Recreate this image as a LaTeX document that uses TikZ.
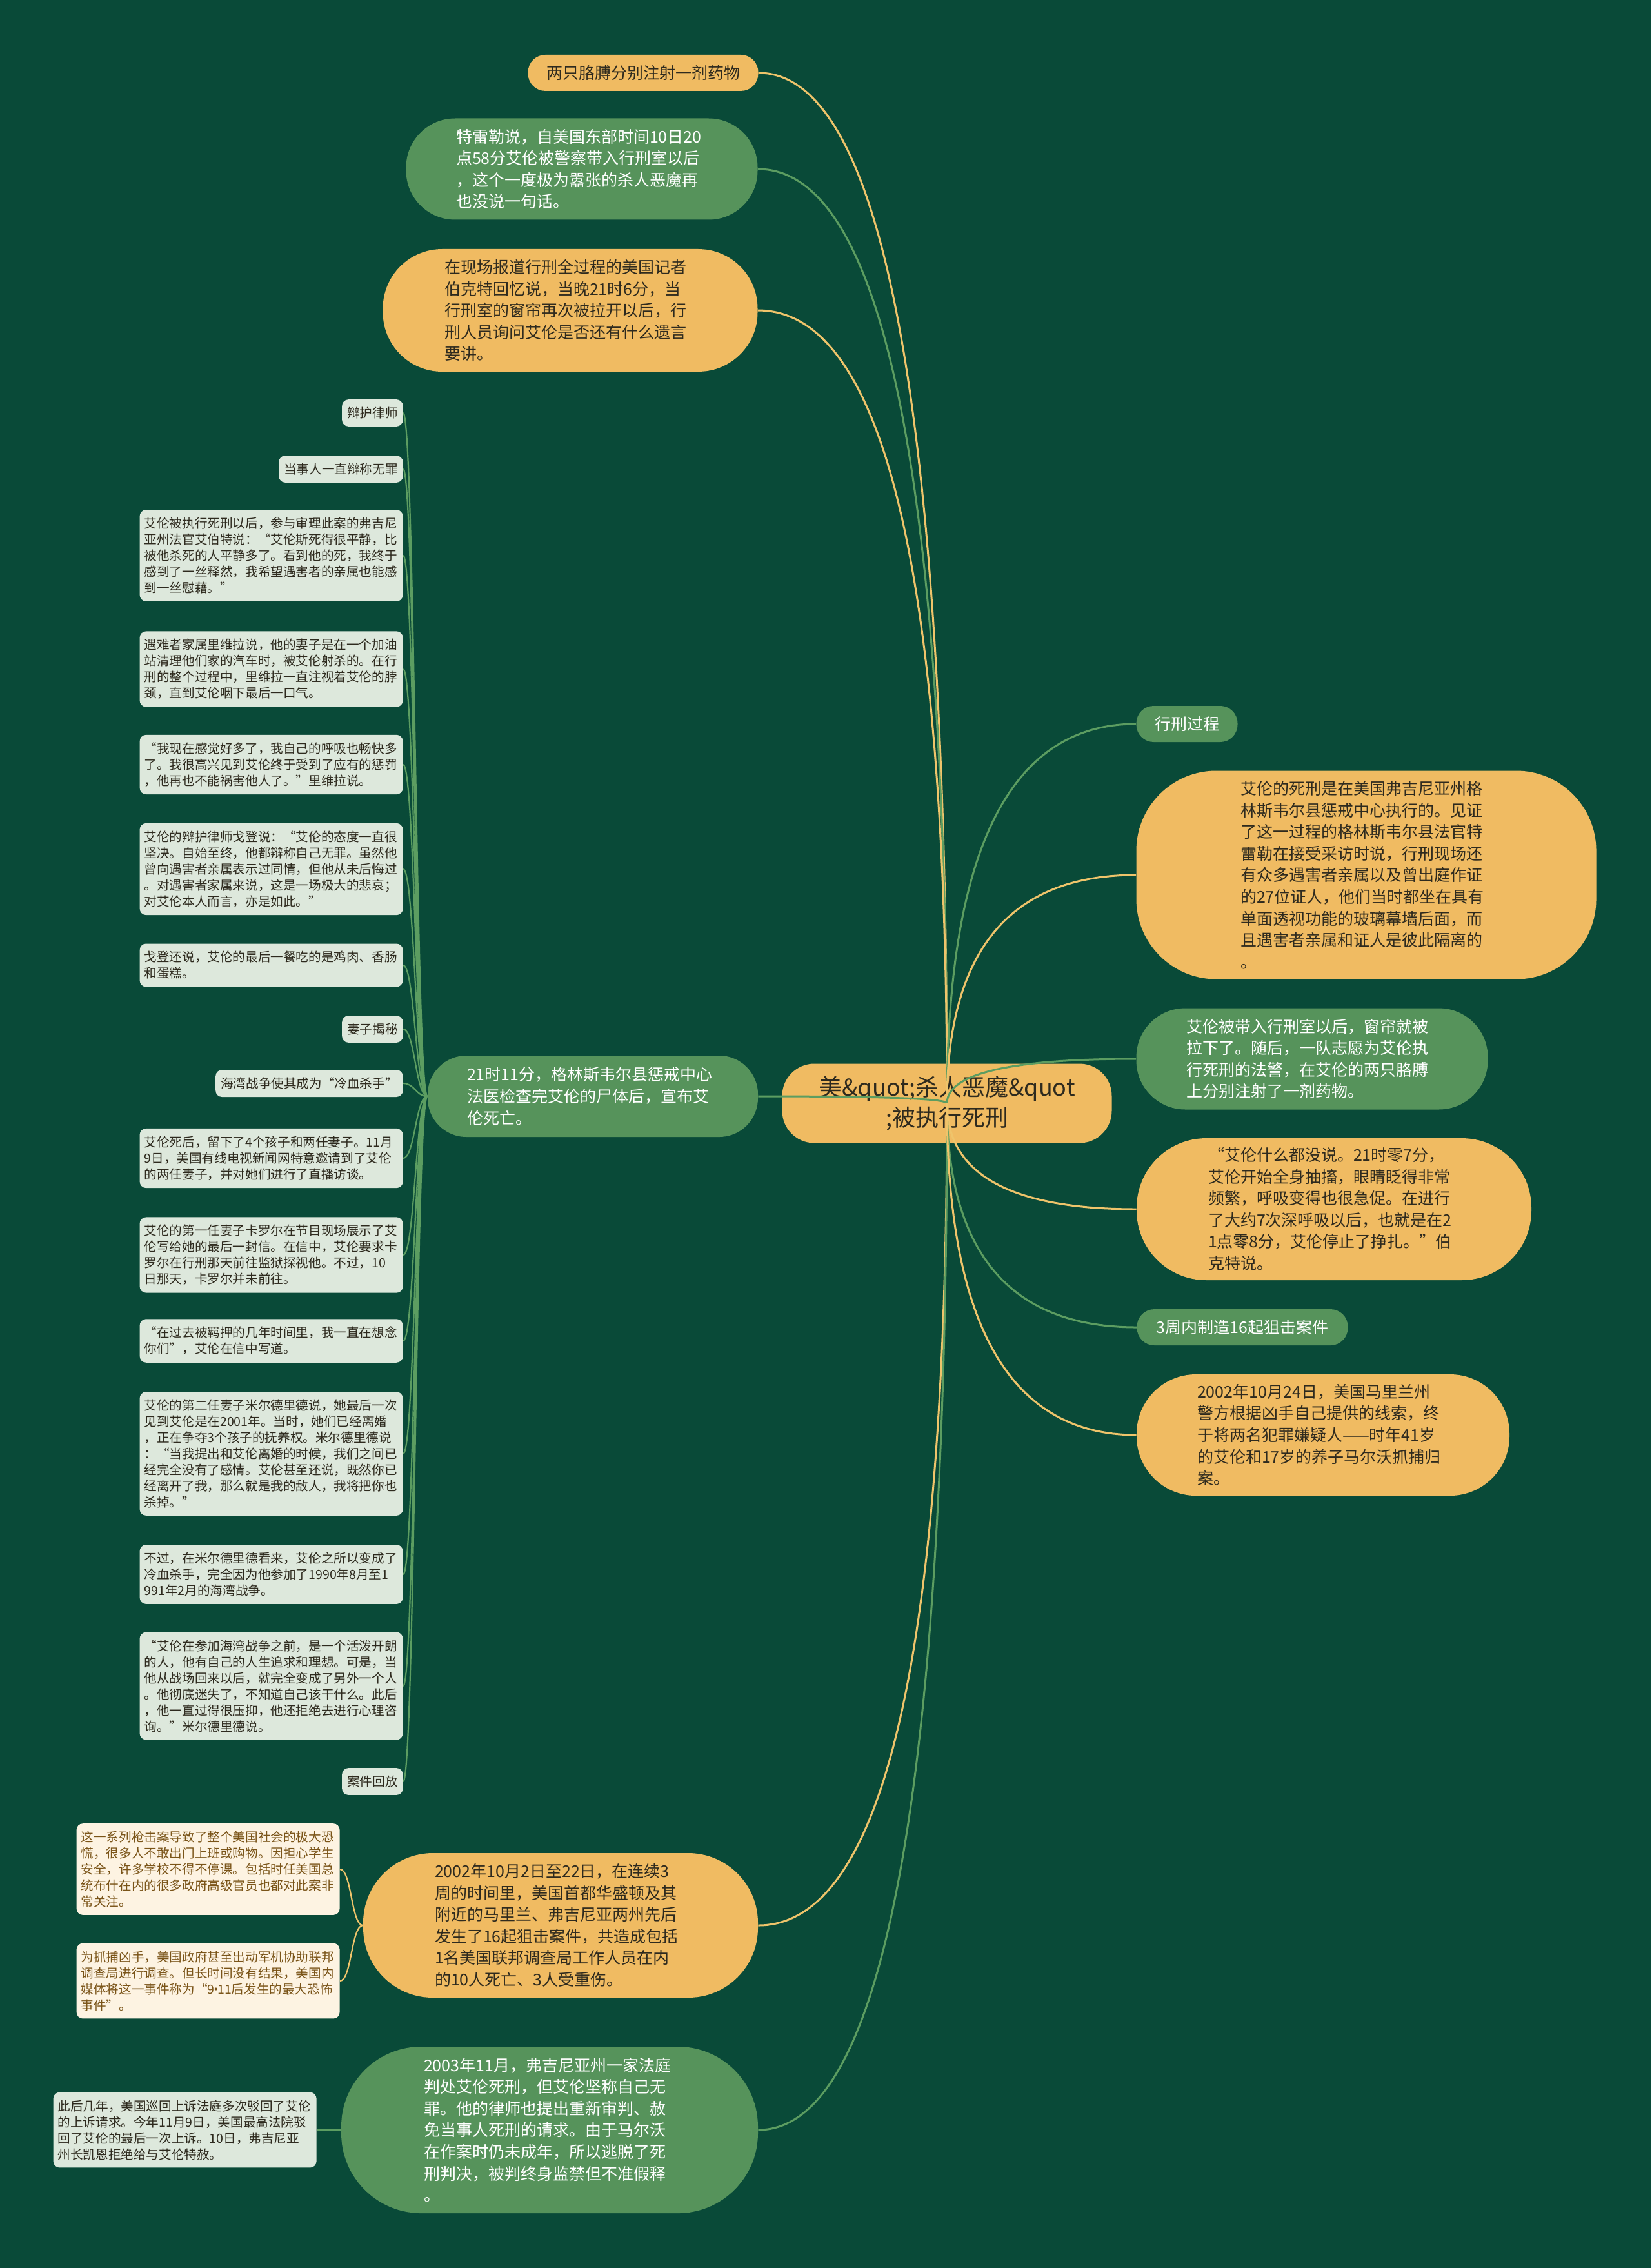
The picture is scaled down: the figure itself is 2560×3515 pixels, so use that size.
\documentclass[tikz,border=0pt]{standalone}
\usepackage{fontspec}
\setmainfont{Noto Sans CJK SC}
\usetikzlibrary{calc}
\definecolor{bgdeep}{HTML}{094A38}
\definecolor{nodeyel}{HTML}{F0BB62}
\definecolor{nodegrn}{HTML}{56935B}
\definecolor{leafgry}{HTML}{DDE8DC}
\definecolor{leafcrm}{HTML}{FDF3E2}
\definecolor{lineyel}{HTML}{EFC46B}
\definecolor{linegrn}{HTML}{5C9D61}
\definecolor{inkdark}{HTML}{2E2A1E}
\definecolor{inkbrown}{HTML}{7A5418}
\tikzset{
  topic/.style={fill=nodeyel, text=inkdark, font=\fontsize{18}{23.5}\selectfont, align=center, inner sep=0pt},
  ysub/.style={fill=nodeyel, text=inkdark, font=\fontsize{12.5}{16.8}\selectfont, inner sep=0pt},
  gsub/.style={fill=nodegrn, text=white, font=\fontsize{12.5}{16.8}\selectfont, inner sep=0pt},
  para/.style={text width=195pt, align=left},
  leaf/.style={fill=leafgry, text=inkdark, font=\fontsize{9.8}{12.5}\selectfont, rounded corners=5pt, inner xsep=4pt, inner ysep=5.9pt, align=left, anchor=east},
  cream/.style={leaf, fill=leafcrm, text=inkbrown},
  wide/.style={text width=197pt, inner xsep=3.5pt},
  yedge/.style={draw=lineyel, line width=1.5pt},
  gedge/.style={draw=linegrn, line width=1.5pt},
  branch/.style={to path={.. controls ($(\tikztostart)!0.667!(\tikztostart|-\tikztotarget)$) and ($(\tikztotarget)!0.667!(\tikztostart|-\tikztotarget)$) .. (\tikztotarget)}},
  twig/.style={line width=1.1pt, to path={.. controls +(-#1,0) and +(#1,0) .. (\tikztotarget)}}
}
\begin{document}
\begin{tikzpicture}[x=0.5pt, y=-0.5pt]
\fill[bgdeep] (0,0) rectangle (2560,3515);

% central topic
\node[topic, minimum width=255.5pt, minimum height=61.5pt, rounded corners=25pt] (topic) at (1468,1710) {美\&quot;杀人恶魔\&quot\\;被执行死刑};

% left branches
\node[ysub, minimum width=178.5pt, minimum height=28pt, rounded corners=13.5pt] (arms) at (997,113) {两只胳膊分别注射一剂药物};
\node[gsub, para, minimum width=272.5pt, minimum height=78.5pt, rounded corners=38pt] (silent) at (902,262) {特雷勒说，自美国东部时间10日20\\点58分艾伦被警察带入行刑室以后\\，这个一度极为嚣张的杀人恶魔再\\也没说一句话。};
\node[ysub, para, minimum width=290.5pt, minimum height=95pt, rounded corners=46pt] (reporter) at (884,481) {在现场报道行刑全过程的美国记者\\伯克特回忆说，当晚21时6分，当\\行刑室的窗帘再次被拉开以后，行\\刑人员询问艾伦是否还有什么遗言\\要讲。};
\node[gsub, para, minimum width=256pt, minimum height=63pt, rounded corners=30pt] (death) at (919,1699) {21时11分，格林斯韦尔县惩戒中心\\法医检查完艾伦的尸体后，宣布艾\\伦死亡。};
\node[ysub, para, minimum width=306pt, minimum height=112pt, rounded corners=54pt] (snipe) at (869,2984) {2002年10月2日至22日，在连续3\\周的时间里，美国首都华盛顿及其\\附近的马里兰、弗吉尼亚两州先后\\发生了16起狙击案件，共造成包括\\1名美国联邦调查局工作人员在内\\的10人死亡、3人受重伤。};
\node[gsub, para, minimum width=323pt, minimum height=129pt, rounded corners=62pt] (verdict) at (852,3301) {2003年11月，弗吉尼亚州一家法庭\\判处艾伦死刑，但艾伦坚称自己无\\罪。他的律师也提出重新审判、赦\\免当事人死刑的请求。由于马尔沃\\在作案时仍未成年，所以逃脱了死\\刑判决，被判终身监禁但不准假释\\。};

% right branches
\node[gsub, minimum width=78.5pt, minimum height=28pt, rounded corners=13.5pt] (process) at (1840,1122) {行刑过程};
\node[ysub, para, minimum width=356.5pt, minimum height=161.5pt, rounded corners=62pt] (site) at (2118,1356) {艾伦的死刑是在美国弗吉尼亚州格\\林斯韦尔县惩戒中心执行的。见证\\了这一过程的格林斯韦尔县法官特\\雷勒在接受采访时说，行刑现场还\\有众多遇害者亲属以及曾出庭作证\\的27位证人，他们当时都坐在具有\\单面透视功能的玻璃幕墙后面，而\\且遇害者亲属和证人是彼此隔离的\\。};
\node[gsub, para, minimum width=272.5pt, minimum height=78.5pt, rounded corners=38pt] (curtain) at (2034,1641) {艾伦被带入行刑室以后，窗帘就被\\拉下了。随后，一队志愿为艾伦执\\行死刑的法警，在艾伦的两只胳膊\\上分别注射了一剂药物。};
\node[ysub, para, minimum width=306pt, minimum height=110pt, rounded corners=54pt] (spasm) at (2068,1874) {“艾伦什么都没说。21时零7分，\\艾伦开始全身抽搐，眼睛眨得非常\\频繁，呼吸变得也很急促。在进行\\了大约7次深呼吸以后，也就是在2\\1点零8分，艾伦停止了挣扎。”伯\\克特说。};
\node[gsub, minimum width=163.5pt, minimum height=28pt, rounded corners=13.5pt] (three) at (1926,2057) {3周内制造16起狙击案件};
\node[ysub, para, minimum width=289pt, minimum height=94pt, rounded corners=46pt] (arrest) at (2051,2224) {2002年10月24日，美国马里兰州\\警方根据凶手自己提供的线索，终\\于将两名犯罪嫌疑人——时年41岁\\的艾伦和17岁的养子马尔沃抓捕归\\案。};

% leaves of the death node
\node[leaf] (lawyer) at (625,640) {辩护律师};
\node[leaf] (innocent) at (625,727) {当事人一直辩称无罪};
\node[leaf, wide] (judge) at (625,861) {艾伦被执行死刑以后，参与审理此案的弗吉尼\\亚州法官艾伯特说：“艾伦斯死得很平静，比\\被他杀死的人平静多了。看到他的死，我终于\\感到了一丝释然，我希望遇害者的亲属也能感\\到一丝慰藉。”};
\node[leaf, wide] (rivera) at (625,1037) {遇难者家属里维拉说，他的妻子是在一个加油\\站清理他们家的汽车时，被艾伦射杀的。在行\\刑的整个过程中，里维拉一直注视着艾伦的脖\\颈，直到艾伦咽下最后一口气。};
\node[leaf, wide] (relief) at (625,1185) {“我现在感觉好多了，我自己的呼吸也畅快多\\了。我很高兴见到艾伦终于受到了应有的惩罚\\，他再也不能祸害他人了。”里维拉说。};
\node[leaf, wide] (gordon) at (625,1347) {艾伦的辩护律师戈登说：“艾伦的态度一直很\\坚决。自始至终，他都辩称自己无罪。虽然他\\曾向遇害者亲属表示过同情，但他从未后悔过\\。对遇害者家属来说，这是一场极大的悲哀；\\对艾伦本人而言，亦是如此。”};
\node[leaf, wide] (meal) at (625,1496) {戈登还说，艾伦的最后一餐吃的是鸡肉、香肠\\和蛋糕。};
\node[leaf] (wives) at (625,1595) {妻子揭秘};
\node[leaf] (gulf) at (625,1679) {海湾战争使其成为“冷血杀手”};
\node[leaf, wide] (after) at (625,1795) {艾伦死后，留下了4个孩子和两任妻子。11月\\9日，美国有线电视新闻网特意邀请到了艾伦\\的两任妻子，并对她们进行了直播访谈。};
\node[leaf, wide] (carol) at (625,1945) {艾伦的第一任妻子卡罗尔在节目现场展示了艾\\伦写给她的最后一封信。在信中，艾伦要求卡\\罗尔在行刑那天前往监狱探视他。不过，10\\日那天，卡罗尔并未前往。};
\node[leaf, wide] (letter) at (625,2078) {“在过去被羁押的几年时间里，我一直在想念\\你们”，艾伦在信中写道。};
\node[leaf, wide] (mildred) at (625,2253) {艾伦的第二任妻子米尔德里德说，她最后一次\\见到艾伦是在2001年。当时，她们已经离婚\\，正在争夺3个孩子的抚养权。米尔德里德说\\：“当我提出和艾伦离婚的时候，我们之间已\\经完全没有了感情。艾伦甚至还说，既然你已\\经离开了我，那么就是我的敌人，我将把你也\\杀掉。”};
\node[leaf, wide] (gulfwar) at (625,2440) {不过，在米尔德里德看来，艾伦之所以变成了\\冷血杀手，完全因为他参加了1990年8月至1\\991年2月的海湾战争。};
\node[leaf, wide] (before) at (625,2613) {“艾伦在参加海湾战争之前，是一个活泼开朗\\的人，他有自己的人生追求和理想。可是，当\\他从战场回来以后，就完全变成了另外一个人\\。他彻底迷失了，不知道自己该干什么。此后\\，他一直过得很压抑，他还拒绝去进行心理咨\\询。”米尔德里德说。};
\node[leaf] (replay) at (625,2761) {案件回放};

% leaves of the sniper node and the verdict node
\node[cream, wide] (panic) at (527,2897) {这一系列枪击案导致了整个美国社会的极大恐\\慌，很多人不敢出门上班或购物。因担心学生\\安全，许多学校不得不停课。包括时任美国总\\统布什在内的很多政府高级官员也都对此案非\\常关注。};
\node[cream, wide] (hunt) at (527,3070) {为抓捕凶手，美国政府甚至出动军机协助联邦\\调查局进行调查。但长时间没有结果，美国内\\媒体将这一事件称为“9\hspace{-0.38em}·\hspace{-0.38em}11后发生的最大恐怖\\事件”。};
\node[leaf, wide] (appeal) at (491,3301) {此后几年，美国巡回上诉法庭多次驳回了艾伦\\的上诉请求。今年11月9日，美国最高法院驳\\回了艾伦的最后一次上诉。10日，弗吉尼亚\\州长凯恩拒绝给与艾伦特赦。};

% connectors from the topic
\draw[yedge] (topic.center) to[branch] (arms.east);
\draw[gedge] (topic.center) to[branch] (silent.east);
\draw[yedge] (topic.center) to[branch] (reporter.east);
\draw[gedge] (topic.center) to[branch] (death.east);
\draw[yedge] (topic.center) to[branch] (snipe.east);
\draw[gedge] (topic.center) to[branch] (verdict.east);
\draw[gedge] (topic.center) to[branch] (process.west);
\draw[yedge] (topic.center) to[branch] (site.west);
\draw[gedge] (topic.center) to[branch] (curtain.west);
\draw[yedge] (topic.center) to[branch] (spasm.west);
\draw[gedge] (topic.center) to[branch] (three.west);
\draw[yedge] (topic.center) to[branch] (arrest.west);

% connectors to the leaves
\draw[gedge, twig=18] (death.west) to (lawyer.east) (death.west) to (innocent.east)
  (death.west) to (judge.east) (death.west) to (rivera.east)
  (death.west) to (relief.east) (death.west) to (gordon.east)
  (death.west) to (meal.east) (death.west) to (wives.east)
  (death.west) to (gulf.east) (death.west) to (after.east)
  (death.west) to (carol.east) (death.west) to (letter.east)
  (death.west) to (mildred.east) (death.west) to (gulfwar.east)
  (death.west) to (before.east) (death.west) to (replay.east);
\draw[yedge, twig=18] (snipe.west) to (panic.east) (snipe.west) to (hunt.east);
\draw[gedge, twig=18] (verdict.west) to (appeal.east);
\end{tikzpicture}
\end{document}
